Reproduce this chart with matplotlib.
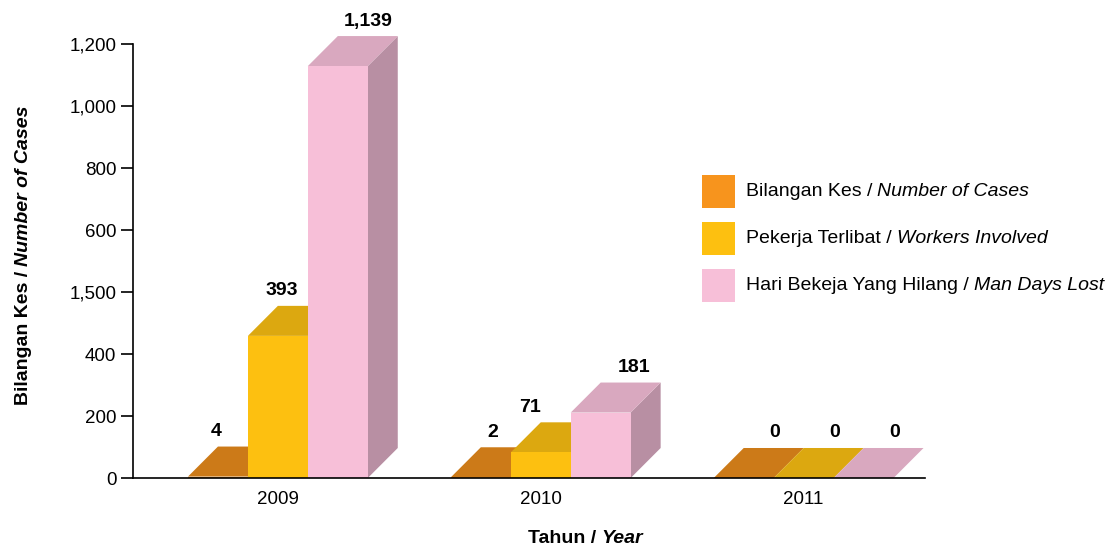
import matplotlib
matplotlib.use('Agg')
import matplotlib.pyplot as plt
from matplotlib.patches import Polygon, Rectangle
import numpy as np

# datos de la grafica
tahun = ['2009', '2010', '2011']
bilangan_kes = [4, 2, 0]
pekerja_terlibat = [393, 71, 0]
hari_hilang = [1139, 181, 0]
siri = [bilangan_kes, pekerja_terlibat, hari_hilang]
label_nilai = [['4', '393', '1,139'], ['2', '71', '181'], ['0', '0', '0']]
ytick_label = ['0', '200', '400', '1,500', '600', '800', '1,000', '1,200']
legenda = [('Bilangan Kes / ', 'Number of Cases'),
           ('Pekerja Terlibat / ', 'Workers Involved'),
           ('Hari Bekeja Yang Hilang / ', 'Man Days Lost')]

# colores: frente, arriba, lado
warna_depan = ['#F7941D', '#FDC010', '#F7BFD8']
warna_atas = ['#CC7A18', '#DCA810', '#D9A8BF']
warna_sisi = ['#AE6716', '#BF920E', '#B88FA3']

plt.rcParams['font.family'] = ['Liberation Sans', 'DejaVu Sans']

fig = plt.figure(figsize=(11.18, 5.53), dpi=100)
ax = fig.add_axes([0.119, 0.1356, 0.708, 0.7848])

x = np.arange(len(tahun))
w = 0.228          # ancho de barra
dx = 0.114         # profundidad en x
dy = 83            # profundidad en y
# desplazamiento manual de las etiquetas (px)
geser = [[-2, 4, 30], [12, -11, 33], [31, 31, 31]]
px = 1 / 263.0

z = 2
for i in range(len(tahun)):
    for j in range(3):
        v = siri[j][i]
        kiri = x[i] + (j - 1) * w - w / 2
        kanan = kiri + w
        # cara lateral
        sisi = Polygon([(kanan, 0), (kanan + dx, dy), (kanan + dx, v + dy), (kanan, v)],
                       closed=True, facecolor=warna_sisi[j], lw=0, zorder=z, clip_on=False)
        # cara superior
        atas = Polygon([(kiri, v), (kiri + dx, v + dy), (kanan + dx, v + dy), (kanan, v)],
                       closed=True, facecolor=warna_atas[j], lw=0, zorder=z + 0.1, clip_on=False)
        ax.add_patch(sisi)
        ax.add_patch(atas)
        # cara frontal
        ax.bar(x[i] + (j - 1) * w, v, width=w, color=warna_depan[j], lw=0,
               zorder=z + 0.2, clip_on=False)
        ax.text(x[i] + (j - 1) * w + geser[i][j] * px, v + dy + 18, label_nilai[i][j],
                ha='center', va='bottom', fontsize=14, fontweight='bold', clip_on=False)
        z += 1

ax.set_xlim(-0.551, 2.46)
ax.set_ylim(0, 1200)
ax.set_xticks(x)
ax.set_xticklabels(tahun, fontsize=13.5)
ax.tick_params(axis='x', length=0, pad=9)
ax.set_yticks(np.linspace(0, 1200, 8))
ax.set_yticklabels(ytick_label, fontsize=13.5)
ax.tick_params(axis='y', length=9, width=1.2, direction='out', pad=3)
for s in ['top', 'right']:
    ax.spines[s].set_visible(False)
for s in ['left', 'bottom']:
    ax.spines[s].set_linewidth(1.2)
    ax.spines[s].set_zorder(50)

# etiqueta del eje y (parte normal + parte cursiva)
t1 = fig.text(0.021, 0.267, 'Bilangan Kes / ', rotation=90, ha='center', va='bottom',
              fontsize=14, fontweight='bold')
ax.annotate('Number of Cases', xy=(0, 1), xycoords=t1, rotation=90, ha='left',
            va='bottom', fontsize=14, fontweight='bold', fontstyle='italic',
            annotation_clip=False)

# etiqueta del eje x
t2 = fig.text(0.472, 0.01, 'Tahun / ', ha='left', va='bottom', fontsize=14,
              fontweight='bold')
ax.annotate('Year', xy=(1, 0), xycoords=t2, ha='left', va='bottom', fontsize=14,
            fontweight='bold', fontstyle='italic', annotation_clip=False)

# leyenda hecha a mano
ys = [0.654, 0.569, 0.483]
for k, (a, b) in enumerate(legenda):
    fig.patches.append(Rectangle((0.628, ys[k] - 0.03), 0.0295, 0.06,
                                 transform=fig.transFigure, facecolor=warna_depan[k],
                                 lw=0))
    tt = fig.text(0.667, ys[k], a, ha='left', va='center', fontsize=14)
    ax.annotate(b, xy=(1, 0), xycoords=tt, ha='left', va='bottom', fontsize=14,
                fontstyle='italic', annotation_clip=False)

fig.savefig('out.png', dpi=100)
